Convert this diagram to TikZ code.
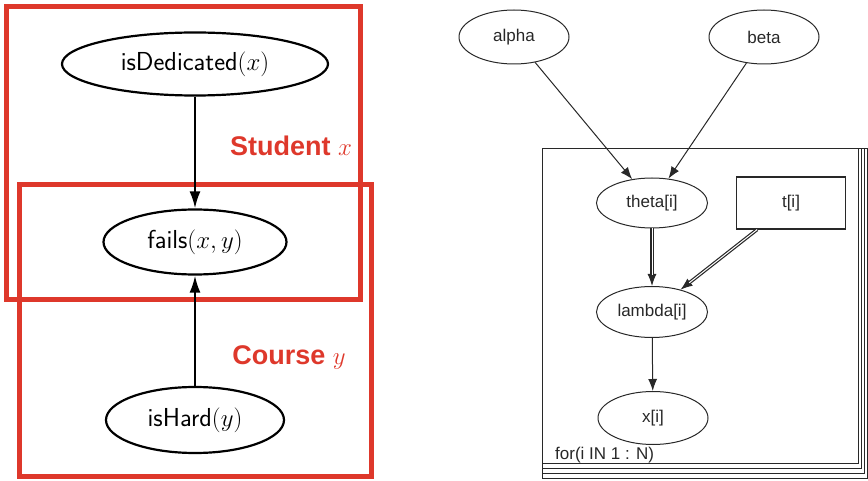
\documentclass[tikz,border=0pt]{standalone}
\usepackage{fontspec}
\newfontfamily\arialfont{Liberation Sans}
\usetikzlibrary{shapes.geometric,arrows.meta}
\definecolor{plred}{RGB}{222,56,43}
\definecolor{bugs}{RGB}{40,40,40}
\tikzset{
  lell/.style={ellipse,draw=black,line width=2.2pt,inner sep=0pt,
    font=\fontsize{26}{31}\selectfont\sffamily},
  larr/.style={line width=2.2pt,-{Latex[length=17pt,width=11pt]}},
  redbox/.style={draw=plred,line width=5pt},
  redlab/.style={text=plred,font=\fontsize{27}{32}\selectfont\arialfont\bfseries,inner sep=0pt},
  rell/.style={ellipse,draw=bugs,line width=1pt,inner sep=0pt,
    font=\fontsize{17}{20}\selectfont\arialfont,text=bugs},
  rbox/.style={rectangle,draw=bugs,line width=1.2pt,inner sep=0pt,
    font=\fontsize{17}{20}\selectfont\arialfont,text=bugs},
  rarr/.style={draw=bugs,line width=1pt,-{Latex[length=12pt,width=9pt]}},
  dbl/.style={draw=bugs,line width=1.2pt,double=white,double distance=1pt},
  plate/.style={draw=bugs,line width=1pt}
}
\begin{document}
\begin{tikzpicture}[x=1pt,y=-1pt]
\useasboundingbox (0,0) rectangle (868,481);
% left panel
\draw[redbox] (6,7) rectangle (360,300);
\draw[redbox] (19,185) rectangle (371,476);
\node[lell,minimum width=266pt,minimum height=63pt] (ded) at (195,64) {isDedicated$(x)$};
\node[lell,minimum width=183pt,minimum height=65pt] (fails) at (195,242) {fails$(x,y)$};
\node[lell,minimum width=178pt,minimum height=66pt] (hard) at (195,420) {isHard$(y)$};
\draw[larr] (ded) -- (fails);
\draw[larr] (hard) -- (fails);
\node[redlab] (stud) at (291,146) {Student $x$};
\node[redlab] (course) at (289,357) {Course $y$};
% right panel
\foreach \k in {3,2,1,0}{
  \draw[plate,fill=white] (542,149) rectangle ({858+3*\k},{463+5*\k});
}
\node[rell,minimum width=110pt,minimum height=54pt] (alpha) at (514,37) {alpha};
\node[rell,minimum width=110pt,minimum height=54pt] (beta) at (764,37) {beta};
\node[rell,minimum width=111pt,minimum height=50pt] (theta) at (652,203) {theta[i]};
\node[rbox,minimum width=109pt,minimum height=52pt] (t) at (791,203) {t[i]};
\node[rell,minimum width=111pt,minimum height=51pt] (lambda) at (652,312) {lambda[i]};
\node[rell,minimum width=110pt,minimum height=53pt] (xi) at (653,418) {x[i]};
\node[anchor=west,inner sep=0pt,font=\fontsize{17}{20}\selectfont\arialfont,text=bugs] (forlab) at (555,455) {for(i IN 1 : N)};
\draw[rarr] (alpha) -- (theta);
\draw[rarr] (beta) -- (theta);
\draw[rarr] (theta) -- (lambda);
\draw[dbl,shorten >=11pt] (theta) -- (lambda);
\draw[rarr] (t) -- (lambda);
\draw[dbl,shorten >=11pt] (t) -- (lambda);
\draw[rarr] (lambda) -- (xi);
\end{tikzpicture}
\end{document}
